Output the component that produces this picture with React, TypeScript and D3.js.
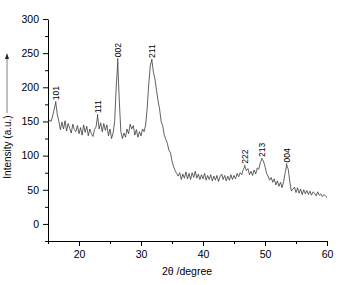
import React, { useEffect, useRef } from 'react';
import * as d3 from 'd3';

// XRD scan, 2θ in degrees
const twoTheta = [
  15.0, 15.25, 15.5, 15.75, 16.0, 16.25, 16.5, 16.75, 17.0, 17.25, 17.5, 17.75,
  18.0, 18.25, 18.5, 18.75, 19.0, 19.25, 19.5, 19.75, 20.0, 20.25, 20.5, 20.75,
  21.0, 21.25, 21.5, 21.75, 22.0, 22.25, 22.5, 22.75, 23.0, 23.25, 23.5, 23.75,
  24.0, 24.25, 24.5, 24.75, 25.0, 25.25, 25.5, 25.75, 26.0, 26.25, 26.5, 26.75,
  27.0, 27.25, 27.5, 27.75, 28.0, 28.25, 28.5, 28.75, 29.0, 29.25, 29.5, 29.75,
  30.0, 30.25, 30.5, 30.75, 31.0, 31.25, 31.5, 31.75, 32.0, 32.25, 32.5, 32.75,
  33.0, 33.25, 33.5, 33.75, 34.0, 34.25, 34.5, 34.75, 35.0, 35.25, 35.5, 35.75,
  36.0, 36.25, 36.5, 36.75, 37.0, 37.25, 37.5, 37.75, 38.0, 38.25, 38.5, 38.75,
  39.0, 39.25, 39.5, 39.75, 40.0, 40.25, 40.5, 40.75, 41.0, 41.25, 41.5, 41.75,
  42.0, 42.25, 42.5, 42.75, 43.0, 43.25, 43.5, 43.75, 44.0, 44.25, 44.5, 44.75,
  45.0, 45.25, 45.5, 45.75, 46.0, 46.25, 46.5, 46.75, 47.0, 47.25, 47.5, 47.75,
  48.0, 48.25, 48.5, 48.75, 49.0, 49.25, 49.5, 49.75, 50.0, 50.25, 50.5, 50.75,
  51.0, 51.25, 51.5, 51.75, 52.0, 52.25, 52.5, 52.75, 53.0, 53.25, 53.5, 53.75,
  54.0, 54.25, 54.5, 54.75, 55.0, 55.25, 55.5, 55.75, 56.0, 56.25, 56.5, 56.75,
  57.0, 57.25, 57.5, 57.75, 58.0, 58.25, 58.5, 58.75, 59.0, 59.25, 59.5, 59.75,
  60.0
];

const intensity = [
  148, 152, 150, 158, 168, 178, 160, 150, 138, 149, 139, 151,
  136, 147, 140, 133, 146, 138, 135, 144, 132, 141, 130, 145,
  134, 143, 129, 139, 132, 128, 138, 142, 158, 139, 148, 135,
  147, 137, 145, 129, 139, 125, 133, 150, 200, 236, 180, 135,
  125, 133, 127, 139, 132, 146, 139, 144, 130, 138, 127, 135,
  129, 139, 135, 145, 170, 205, 232, 240, 222, 212, 196, 180,
  168, 150, 144, 130, 124, 118, 108, 104, 92, 84, 78, 74,
  70, 75, 65, 73, 67, 76, 66, 74, 65, 75, 68, 77,
  67, 73, 65, 72, 66, 74, 64, 71, 65, 72, 63, 70,
  64, 71, 62, 69, 73, 65, 71, 63, 70, 64, 72, 65,
  71, 66, 74, 69, 75, 72, 80, 84, 78, 81, 72, 77,
  71, 79, 73, 82, 80, 90, 95, 92, 84, 74, 70, 64,
  68, 61, 66, 57, 63, 55, 61, 53, 62, 75, 86, 80,
  62, 48, 51, 54, 46, 53, 45, 51, 43, 50, 44, 49,
  43, 48, 42, 47, 45, 41, 47, 42, 44, 40, 43, 41,
  39
];

const peakLabels = ['101', '111', '002', '211', '222', '213', '004'];
const peakPositions = [16.25, 23.0, 26.25, 31.75, 46.75, 49.5, 53.5];
const peakLabelBase = [181, 162, 244, 243, 88, 98, 90];

const xTicks = [20, 30, 40, 50, 60];
const xMinorTicks = [15, 25, 35, 45, 55];
const yTicks = [0, 50, 100, 150, 200, 250, 300];
const yMinorTicks = [-25, 25, 75, 125, 175, 225, 275];

const W = 342, H = 285;
const margin = { top: 19, right: 15, bottom: 44, left: 48 };
const font = '"Liberation Sans", Arial, sans-serif';

function XrdChart() {
  const ref = useRef<SVGSVGElement>(null);

  useEffect(() => {
    const svg = d3.select(ref.current);
    svg.selectAll('*').remove();

    const width = W - margin.left - margin.right;
    const height = H - margin.top - margin.bottom;

    const x = d3.scaleLinear().domain([15, 60]).range([margin.left, margin.left + width]);
    const y = d3.scaleLinear().domain([-25, 300]).range([margin.top + height, margin.top]);

    // axes (minor ticks first, then labelled major ticks)
    svg.append('g')
      .attr('transform', 'translate(0,' + (margin.top + height) + ')')
      .call(d3.axisBottom(x).tickValues(xMinorTicks).tickSize(3).tickFormat(() => '').tickSizeOuter(0));
    const xMajor = svg.append('g')
      .attr('transform', 'translate(0,' + (margin.top + height) + ')')
      .call(d3.axisBottom(x).tickValues(xTicks).tickSize(5).tickPadding(5).tickSizeOuter(0));
    xMajor.select('.domain').remove();

    svg.append('g')
      .attr('transform', 'translate(' + margin.left + ',0)')
      .call(d3.axisLeft(y).tickValues(yMinorTicks).tickSize(3).tickFormat(() => '').tickSizeOuter(0));
    const yMajor = svg.append('g')
      .attr('transform', 'translate(' + margin.left + ',0)')
      .call(d3.axisLeft(y).tickValues(yTicks).tickSize(5).tickPadding(4).tickSizeOuter(0));
    yMajor.select('.domain').remove();

    svg.selectAll('.tick text')
      .attr('font-family', font)
      .attr('font-size', 10.5)
      .attr('fill', '#000');
    svg.selectAll('.domain, .tick line').attr('stroke', '#000');

    // pattern
    const line = d3.line<number>()
      .x((d, i) => x(twoTheta[i]))
      .y(d => y(d));

    svg.append('path')
      .datum(intensity)
      .attr('fill', 'none')
      .attr('stroke', '#3a3a3a')
      .attr('stroke-width', 0.8)
      .attr('d', line);

    // reflections
    peakLabels.forEach((lbl, i) => {
      const px = x(peakPositions[i]);
      const idx = twoTheta.indexOf(peakPositions[i]);
      svg.append('line')
        .attr('x1', px).attr('x2', px)
        .attr('y1', y(intensity[idx]))
        .attr('y2', y(peakLabelBase[i]) + 1)
        .attr('stroke', '#000')
        .attr('stroke-width', 0.8);
      svg.append('text')
        .attr('transform', 'translate(' + (px + 3) + ',' + y(peakLabelBase[i]) + ') rotate(-90)')
        .attr('font-family', font)
        .attr('font-size', 8.5)
        .attr('text-anchor', 'start')
        .text(lbl);
    });

    // axis titles
    svg.append('text')
      .attr('x', 187)
      .attr('y', 275)
      .attr('text-anchor', 'middle')
      .attr('font-family', font)
      .attr('font-size', 10.5)
      .text('2θ /degree');

    svg.append('text')
      .attr('transform', 'translate(11,147) rotate(-90)')
      .attr('text-anchor', 'middle')
      .attr('font-family', font)
      .attr('font-size', 10)
      .text('Intensity (a.u.)');

    svg.append('line')
      .attr('x1', 7).attr('x2', 7)
      .attr('y1', 113).attr('y2', 59)
      .attr('stroke', '#aaa')
      .attr('stroke-width', 1.5);
    svg.append('path')
      .attr('d', 'M7,53 L5,59 L9,59 Z')
      .attr('fill', '#222');
  }, []);

  return <svg ref={ref} width={W} height={H} style={{ position: 'absolute', left: 0, top: 0, background: '#fff' }} />;
}

export default function App() {
  return <XrdChart />;
}
